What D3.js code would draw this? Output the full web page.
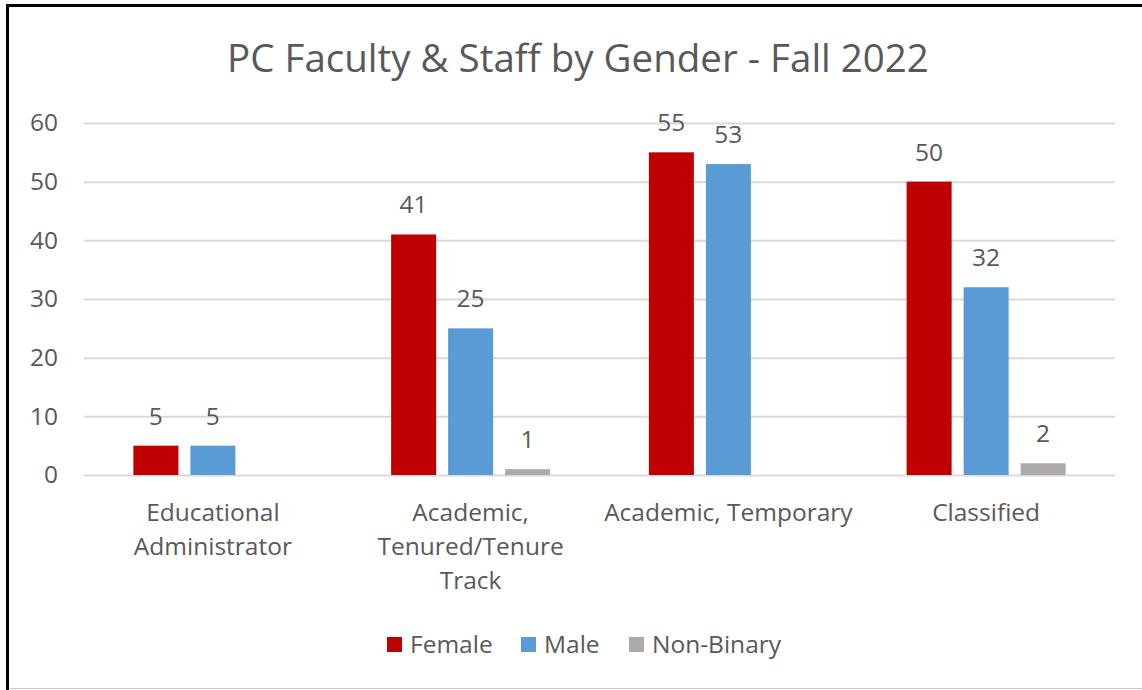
<!DOCTYPE html>
<html>
<head>
<meta charset="utf-8">
<script src="https://cdn.jsdelivr.net/npm/d3@7"></script>
<style>
  html, body { margin: 0; padding: 0; background: #fff; }
  svg { display: block; font-family: 'Open Sans', sans-serif; }
  .grid line { stroke: #d9d9d9; stroke-width: 2; }
  .axis text, .cat-label, .bar-label, .legend text { fill: #595959; }
</style>
</head>
<body>
<div id="chart"></div>
<script>
const categories = ['Educational Administrator', 'Academic, Tenured/Tenure Track', 'Academic, Temporary', 'Classified']
const categoryLines = [
  ['Educational', 'Administrator'],
  ['Academic,', 'Tenured/Tenure', 'Track'],
  ['Academic, Temporary'],
  ['Classified'],
]
const seriesNames = ['Female', 'Male', 'Non-Binary']
const female = [5, 41, 55, 50]
const male = [5, 25, 53, 32]
const nonBinary = [0, 1, 0, 2]
const yTicks = [0, 10, 20, 30, 40, 50, 60]
const colors = ['#c00000', '#5b9bd5', '#aeaaaa']

const width = 1142
const height = 690
const margin = { top: 123, right: 27, bottom: 215, left: 84 }
const innerW = width - margin.left - margin.right
const innerH = height - margin.top - margin.bottom
const fs = 24.5

const rows = categories.map((c, i) => ({
  cat: c,
  values: [female[i], male[i], nonBinary[i]],
}))

const svg = d3.select('#chart').append('svg').attr('width', width).attr('height', height)

// frame (black top/left, light bottom)
svg.append('rect').attr('x', 0).attr('y', 0).attr('width', width).attr('height', height).attr('fill', '#fff')
svg.append('line').attr('x1', 6).attr('x2', width).attr('y1', 5.5).attr('y2', 5.5).attr('stroke', '#000').attr('stroke-width', 3)
svg.append('line').attr('x1', 7.5).attr('x2', 7.5).attr('y1', 4).attr('y2', height).attr('stroke', '#000').attr('stroke-width', 3)
svg.append('line').attr('x1', 9).attr('x2', width).attr('y1', 688.5).attr('y2', 688.5).attr('stroke', '#c8c8c8').attr('stroke-width', 1)

svg.append('text')
  .attr('x', 578).attr('y', 72)
  .attr('text-anchor', 'middle')
  .attr('font-size', 38.5)
  .attr('fill', '#595959')
  .text('PC Faculty & Staff by Gender - Fall 2022')

const g = svg.append('g').attr('transform', `translate(${margin.left},${margin.top})`)

const x0 = d3.scaleBand().domain(categories).range([0, innerW])
const x1 = d3.scaleBand().domain(seriesNames)
  .range([x0.bandwidth() / 2 - 79.5, x0.bandwidth() / 2 + 79.5])
  .paddingInner(12 / 57)
const y = d3.scaleLinear().domain([0, 60]).range([innerH, 0])

// gridlines
g.append('g').attr('class', 'grid')
  .call(d3.axisLeft(y).tickValues(yTicks).tickSize(-innerW).tickFormat(''))
  .call((s) => s.select('.domain').remove())

// y axis labels
g.append('g').attr('class', 'axis')
  .attr('transform', 'translate(-26,0)')
  .call(d3.axisLeft(y).tickValues(yTicks).tickSize(0).tickPadding(0))
  .call((s) => s.select('.domain').remove())
  .selectAll('text')
  .attr('font-size', fs)
  .attr('font-family', "'Open Sans', sans-serif")

const groups = g.selectAll('.grp').data(rows).join('g')
  .attr('class', 'grp')
  .attr('transform', (d) => `translate(${x0(d.cat)},0)`)

const bars = groups.selectAll('.bar')
  .data((d) => d.values.map((v, k) => ({ key: seriesNames[k], v, k })).filter((e) => e.v > 0))
  .join('g')

bars.append('rect')
  .attr('x', (d) => x1(d.key))
  .attr('width', x1.bandwidth())
  .attr('y', (d) => y(d.v))
  .attr('height', (d) => innerH - y(d.v))
  .attr('fill', (d) => colors[d.k])

bars.append('text')
  .attr('class', 'bar-label')
  .attr('x', (d) => x1(d.key) + x1.bandwidth() / 2)
  .attr('y', (d) => y(d.v) - 21)
  .attr('text-anchor', 'middle')
  .attr('font-size', fs)
  .text((d) => d.v)

// category labels
groups.append('text')
  .attr('class', 'cat-label')
  .attr('text-anchor', 'middle')
  .attr('font-size', fs)
  .attr('y', innerH + 46)
  .selectAll('tspan')
  .data((d, i) => categoryLines[i])
  .join('tspan')
  .attr('x', x0.bandwidth() / 2)
  .attr('dy', (d, i) => (i === 0 ? 0 : 34))
  .text((d) => d)

// legend
const legendX = [387, 521, 629]
const legend = svg.append('g').attr('class', 'legend')
const li = legend.selectAll('g').data(seriesNames).join('g')
  .attr('transform', (d, i) => `translate(${legendX[i]},637)`)
li.append('rect').attr('width', 15).attr('height', 15).attr('fill', (d, i) => colors[i])
li.append('text').attr('x', 23).attr('y', 16).attr('font-size', fs).text((d) => d)
</script>
</body>
</html>
